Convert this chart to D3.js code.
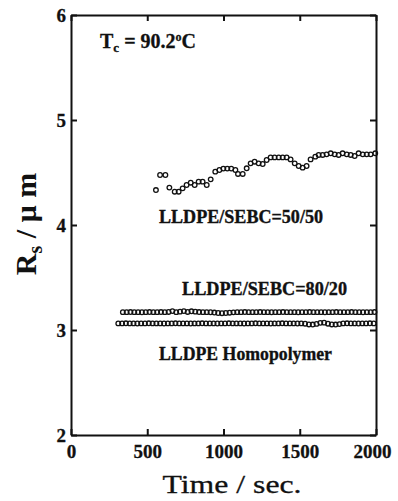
<!DOCTYPE html>
<html>
<head>
<meta charset="utf-8">
<script src="https://cdn.jsdelivr.net/npm/d3@7"></script>
<style>
  html, body { margin: 0; padding: 0; background: #fff; }
  svg { display: block; }
</style>
</head>
<body>
<div id="chart"></div>
<script>
// ---- data ----
const xTicks = [0, 500, 1000, 1500, 2000];
const yTicks = [2, 3, 4, 5, 6];

// LLDPE/SEBC = 50/50
const t5050 = [557, 584, 619, 645, 680, 706, 732, 758, 785, 811, 837, 863, 890, 916, 946, 973, 999, 1025, 1051, 1078, 1095, 1126, 1152, 1178, 1204, 1230, 1257, 1283, 1309, 1335, 1362, 1388, 1414, 1440, 1467, 1493, 1519, 1545, 1571, 1602, 1624, 1650, 1676, 1703, 1729, 1755, 1781, 1808, 1834, 1860, 1886, 1913, 1939, 1965, 1995];
const r5050 = [4.333, 4.476, 4.476, 4.356, 4.317, 4.317, 4.349, 4.381, 4.403, 4.381, 4.413, 4.413, 4.381, 4.435, 4.508, 4.524, 4.537, 4.537, 4.537, 4.524, 4.486, 4.486, 4.540, 4.587, 4.603, 4.587, 4.581, 4.619, 4.644, 4.644, 4.644, 4.644, 4.644, 4.625, 4.587, 4.562, 4.546, 4.562, 4.625, 4.651, 4.667, 4.667, 4.673, 4.683, 4.673, 4.667, 4.683, 4.673, 4.667, 4.657, 4.683, 4.673, 4.673, 4.673, 4.683];

// LLDPE/SEBC = 80/20
const t8020 = [340, 365, 390, 415, 440, 465, 490, 515, 540, 565, 590, 615, 640, 665, 690, 715, 740, 765, 790, 815, 840, 865, 890, 915, 940, 965, 990, 1015, 1040, 1065, 1090, 1115, 1140, 1165, 1190, 1215, 1240, 1265, 1290, 1315, 1340, 1365, 1390, 1415, 1440, 1465, 1490, 1515, 1540, 1565, 1590, 1615, 1640, 1665, 1690, 1715, 1740, 1765, 1790, 1815, 1840, 1865, 1890, 1915, 1940, 1965, 1990];
const r8020 = [3.170, 3.170, 3.171, 3.170, 3.170, 3.169, 3.170, 3.171, 3.170, 3.170, 3.171, 3.170, 3.172, 3.180, 3.170, 3.175, 3.180, 3.172, 3.178, 3.175, 3.171, 3.170, 3.170, 3.169, 3.166, 3.162, 3.160, 3.162, 3.165, 3.168, 3.170, 3.170, 3.171, 3.170, 3.170, 3.170, 3.171, 3.170, 3.170, 3.169, 3.170, 3.170, 3.171, 3.170, 3.170, 3.170, 3.169, 3.170, 3.170, 3.171, 3.170, 3.170, 3.170, 3.169, 3.170, 3.170, 3.171, 3.170, 3.170, 3.170, 3.171, 3.170, 3.170, 3.169, 3.170, 3.170, 3.171];

// LLDPE Homopolymer
const tHomo = [310, 335, 360, 385, 410, 435, 460, 485, 510, 535, 560, 585, 610, 635, 660, 685, 710, 735, 760, 785, 810, 835, 860, 885, 910, 935, 960, 985, 1010, 1035, 1060, 1085, 1110, 1135, 1160, 1185, 1210, 1235, 1260, 1285, 1310, 1335, 1360, 1385, 1410, 1435, 1460, 1485, 1510, 1535, 1560, 1585, 1610, 1635, 1660, 1685, 1710, 1735, 1760, 1785, 1810, 1835, 1860, 1885, 1910, 1935, 1960, 1985];
const rHomo = [3.063, 3.063, 3.064, 3.063, 3.063, 3.062, 3.063, 3.063, 3.064, 3.063, 3.063, 3.063, 3.062, 3.063, 3.063, 3.064, 3.063, 3.063, 3.063, 3.062, 3.063, 3.063, 3.064, 3.063, 3.063, 3.063, 3.062, 3.063, 3.063, 3.064, 3.063, 3.063, 3.063, 3.062, 3.063, 3.063, 3.064, 3.063, 3.063, 3.063, 3.062, 3.063, 3.063, 3.064, 3.063, 3.063, 3.063, 3.062, 3.063, 3.060, 3.053, 3.052, 3.058, 3.068, 3.070, 3.060, 3.053, 3.052, 3.056, 3.063, 3.064, 3.063, 3.063, 3.062, 3.063, 3.063, 3.064, 3.063];

// ---- drawing ----
const W = 398, H = 501;
const svg = d3.select("#chart").append("svg").attr("width", W).attr("height", H);

const x = d3.scaleLinear().domain([0, 2000]).range([71, 376]);
const y = d3.scaleLinear().domain([2, 6]).range([435, 15]);

const serif = "'Liberation Serif', 'Times New Roman', serif";
const ink = "#111";

function styleAxis(g) {
  g.selectAll("path.domain").attr("stroke", ink).attr("stroke-width", 2);
  g.selectAll(".tick line").attr("stroke", ink).attr("stroke-width", 2);
  g.selectAll(".tick text").attr("fill", ink)
    .attr("font-family", serif).attr("font-weight", "bold").attr("font-size", 19)
    .attr("stroke", ink).attr("stroke-width", 0.3);
}

const xAxisG = svg.append("g").attr("transform", `translate(0,${y(2)})`)
  .call(d3.axisBottom(x).tickValues(xTicks).tickSize(-6).tickSizeOuter(0).tickPadding(10).tickFormat(d3.format("d")))
  .call(styleAxis);
xAxisG.selectAll(".tick text").filter(d => d === 2000).attr("dx", -4);
svg.append("g").attr("transform", `translate(0,${y(6)})`)
  .call(d3.axisTop(x).tickValues(xTicks).tickSize(-6).tickSizeOuter(0).tickFormat(""))
  .call(styleAxis);
svg.append("g").attr("transform", `translate(${x(0)},0)`)
  .call(d3.axisLeft(y).tickValues(yTicks).tickSize(-6).tickSizeOuter(0).tickPadding(5).tickFormat(d3.format("d")))
  .call(styleAxis);
svg.append("g").attr("transform", `translate(${x(2000)},0)`)
  .call(d3.axisRight(y).tickValues(yTicks).tickSize(-6).tickSizeOuter(0).tickFormat(""))
  .call(styleAxis);

function drawSeries(ts, rs) {
  svg.append("g").selectAll("circle").data(ts.map((t, i) => [t, rs[i]])).join("circle")
    .attr("cx", d => x(d[0])).attr("cy", d => y(d[1])).attr("r", 2.3)
    .attr("fill", "none").attr("stroke", ink).attr("stroke-width", 1.3);
}
drawSeries(t5050, r5050);
drawSeries(t8020, r8020);
drawSeries(tHomo, rHomo);

// series labels
function label(txt, xx, yy, len) {
  svg.append("text").attr("x", xx).attr("y", yy)
    .attr("font-family", serif).attr("font-weight", "bold").attr("font-size", 18)
    .attr("fill", ink).attr("stroke", ink).attr("stroke-width", 0.35)
    .attr("textLength", len).attr("lengthAdjust", "spacingAndGlyphs")
    .text(txt);
}
label("LLDPE/SEBC=50/50", 159, 223, 164);
label("LLDPE/SEBC=80/20", 182, 295, 165);
label("LLDPE Homopolymer", 159, 360, 173);

// Tc annotation
const tc = svg.append("text").attr("x", 100).attr("y", 48)
  .attr("font-family", serif).attr("font-weight", "bold").attr("font-size", 20)
  .attr("fill", ink).attr("stroke", ink).attr("stroke-width", 0.3);
tc.append("tspan").text("T");
tc.append("tspan").attr("font-size", 13).attr("dy", 4).text("c");
tc.append("tspan").attr("dy", -4).text(" = 90.2");
tc.append("tspan").attr("font-size", 12).attr("dy", -7).text("o");
tc.append("tspan").attr("dy", 7).text("C");

// axis titles
svg.append("text").attr("x", 232).attr("y", 493).attr("text-anchor", "middle")
  .attr("font-family", serif).attr("font-size", 26).attr("fill", ink)
  .attr("stroke", ink).attr("stroke-width", 0.3)
  .attr("textLength", 139).attr("lengthAdjust", "spacingAndGlyphs")
  .text("Time / sec.");

const yl = svg.append("text").attr("transform", "translate(36,224) rotate(-90)")
  .attr("text-anchor", "middle")
  .attr("font-family", serif).attr("font-weight", "bold").attr("font-size", 30)
  .attr("fill", ink);
yl.append("tspan").text("R");
yl.append("tspan").attr("font-size", 20).attr("dy", 6).text("s");
yl.append("tspan").attr("dy", -6).text(" / μ m");
</script>
</body>
</html>
